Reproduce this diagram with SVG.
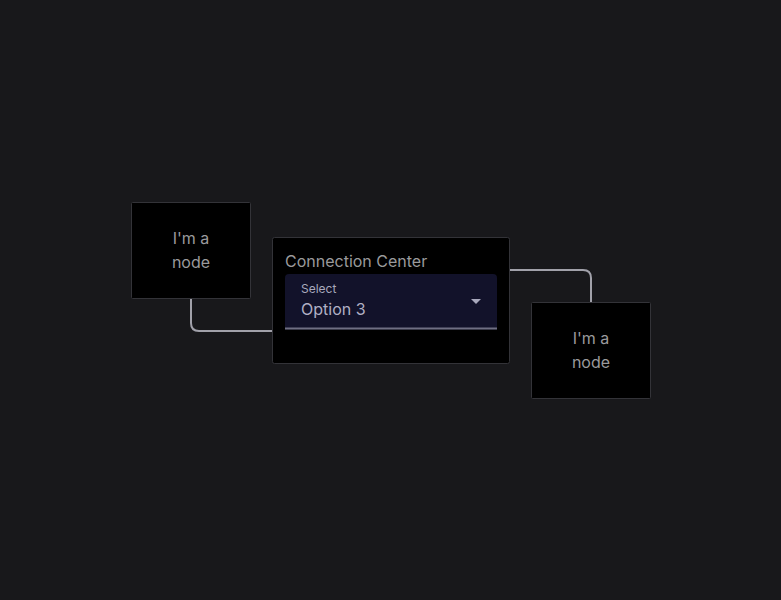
<svg xmlns="http://www.w3.org/2000/svg" width="781" height="600" viewBox="0 0 781 600">
<style>
.node{fill:#000;stroke:#333338;stroke-width:1}
.lbl{font-family:Inter,"Liberation Sans",sans-serif;font-size:16px;fill:#9a9a9c}
.edge{fill:none;stroke:#a1a1aa;stroke-width:2}
</style>
<rect width="781" height="600" fill="#18181b"/>
<g id="connectors">
<path class="edge" d="M191 298 V323 Q191 331 199 331 H272"/>
<path class="edge" d="M509 270 H583 Q591 270 591 278 V302"/>
</g>
<g id="node-1">
<rect class="node" x="131.5" y="202.5" width="119" height="96" rx="1"/>
<text class="lbl" x="191" y="244" text-anchor="middle">I'm a</text>
<text class="lbl" x="191" y="268" text-anchor="middle">node</text>
</g>
<g id="connection-center">
<rect class="node" x="272.5" y="237.5" width="237" height="126" rx="2"/>
<text class="lbl" x="285" y="267">Connection Center</text>
<path d="M285 278 Q285 274 289 274 H493 Q497 274 497 278 V329.5 H285 Z" fill="#12122a"/>
<rect x="285" y="327.5" width="212" height="2" fill="#6e6e82"/>
<text x="301" y="293" font-family="Inter,'Liberation Sans',sans-serif" font-size="12" fill="#a8a8bc">Select</text>
<text x="301" y="314.5" font-family="Inter,'Liberation Sans',sans-serif" font-size="16" fill="#b0b0c4">Option 3</text>
<polygon points="471,299 481,299 476,304" fill="#a8a8bc"/>
</g>
<g id="node-2">
<rect class="node" x="531.5" y="302.5" width="119" height="96" rx="1"/>
<text class="lbl" x="591" y="344" text-anchor="middle">I'm a</text>
<text class="lbl" x="591" y="368" text-anchor="middle">node</text>
</g>
</svg>
